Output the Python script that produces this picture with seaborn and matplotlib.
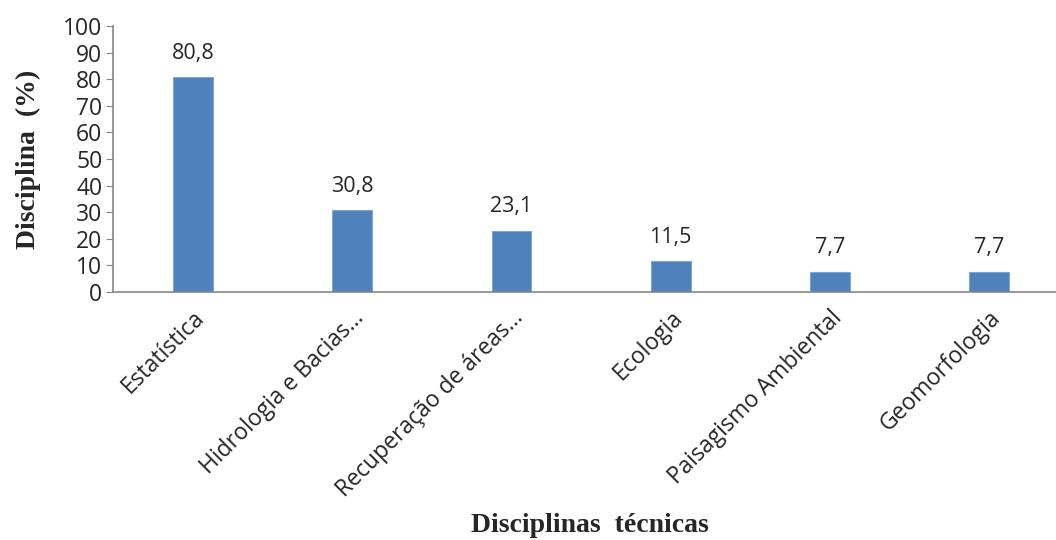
import seaborn as sns
import matplotlib.pyplot as plt
import pandas as pd

categories = ["Estatística", "Hidrologia e Bacias...", "Recuperação de áreas...",
              "Ecologia", "Paisagismo Ambiental", "Geomorfologia"]
values = [80.8, 30.8, 23.1, 11.5, 7.7, 7.7]
value_labels = ["80,8", "30,8", "23,1", "11,5", "7,7", "7,7"]

df = pd.DataFrame({"Disciplina": categories, "Percent": values})

sns.set_style("white")
plt.rcParams["font.family"] = ["Open Sans", "DejaVu Sans"]

fig = plt.figure(figsize=(10.56, 5.4), dpi=100)
ax = fig.add_axes([113.4 / 1056, 248 / 540, 955.2 / 1056, 266 / 540])

sns.barplot(data=df, x="Disciplina", y="Percent", color="#4F81BD",
            width=0.25, saturation=1, edgecolor="#7FA6D6", linewidth=0.8, ax=ax)

for i, (v, lab) in enumerate(zip(values, value_labels)):
    ax.text(i, v + 5, lab, ha="center", va="bottom", fontsize=15.5)

ax.set_xlim(-0.5, 5.5)
ax.set_ylim(0, 100)
ax.set_yticks(range(0, 101, 10))
ax.tick_params(axis="y", labelsize=16.5, length=5, color="#868686", direction="out", left=True, pad=3)
ax.tick_params(axis="x", length=0, labelsize=16.5, pad=10)
plt.setp(ax.get_xticklabels(), rotation=45, ha="right", rotation_mode="anchor")

for s in ["top", "right"]:
    ax.spines[s].set_visible(False)
for s in ["left", "bottom"]:
    ax.spines[s].set_color("#868686")
    ax.spines[s].set_linewidth(1.2)

ax.set_ylabel("Disciplina  (%)", fontsize=20, fontweight="bold",
              family=["Liberation Serif", "DejaVu Serif"], labelpad=16)
ax.set_xlabel("")
fig.text(590 / 1056, 1 - 525 / 540, "Disciplinas  técnicas", ha="center", va="center",
         fontsize=20, fontweight="bold", family=["Liberation Serif", "DejaVu Serif"])

fig.savefig("out.png", dpi=100)
